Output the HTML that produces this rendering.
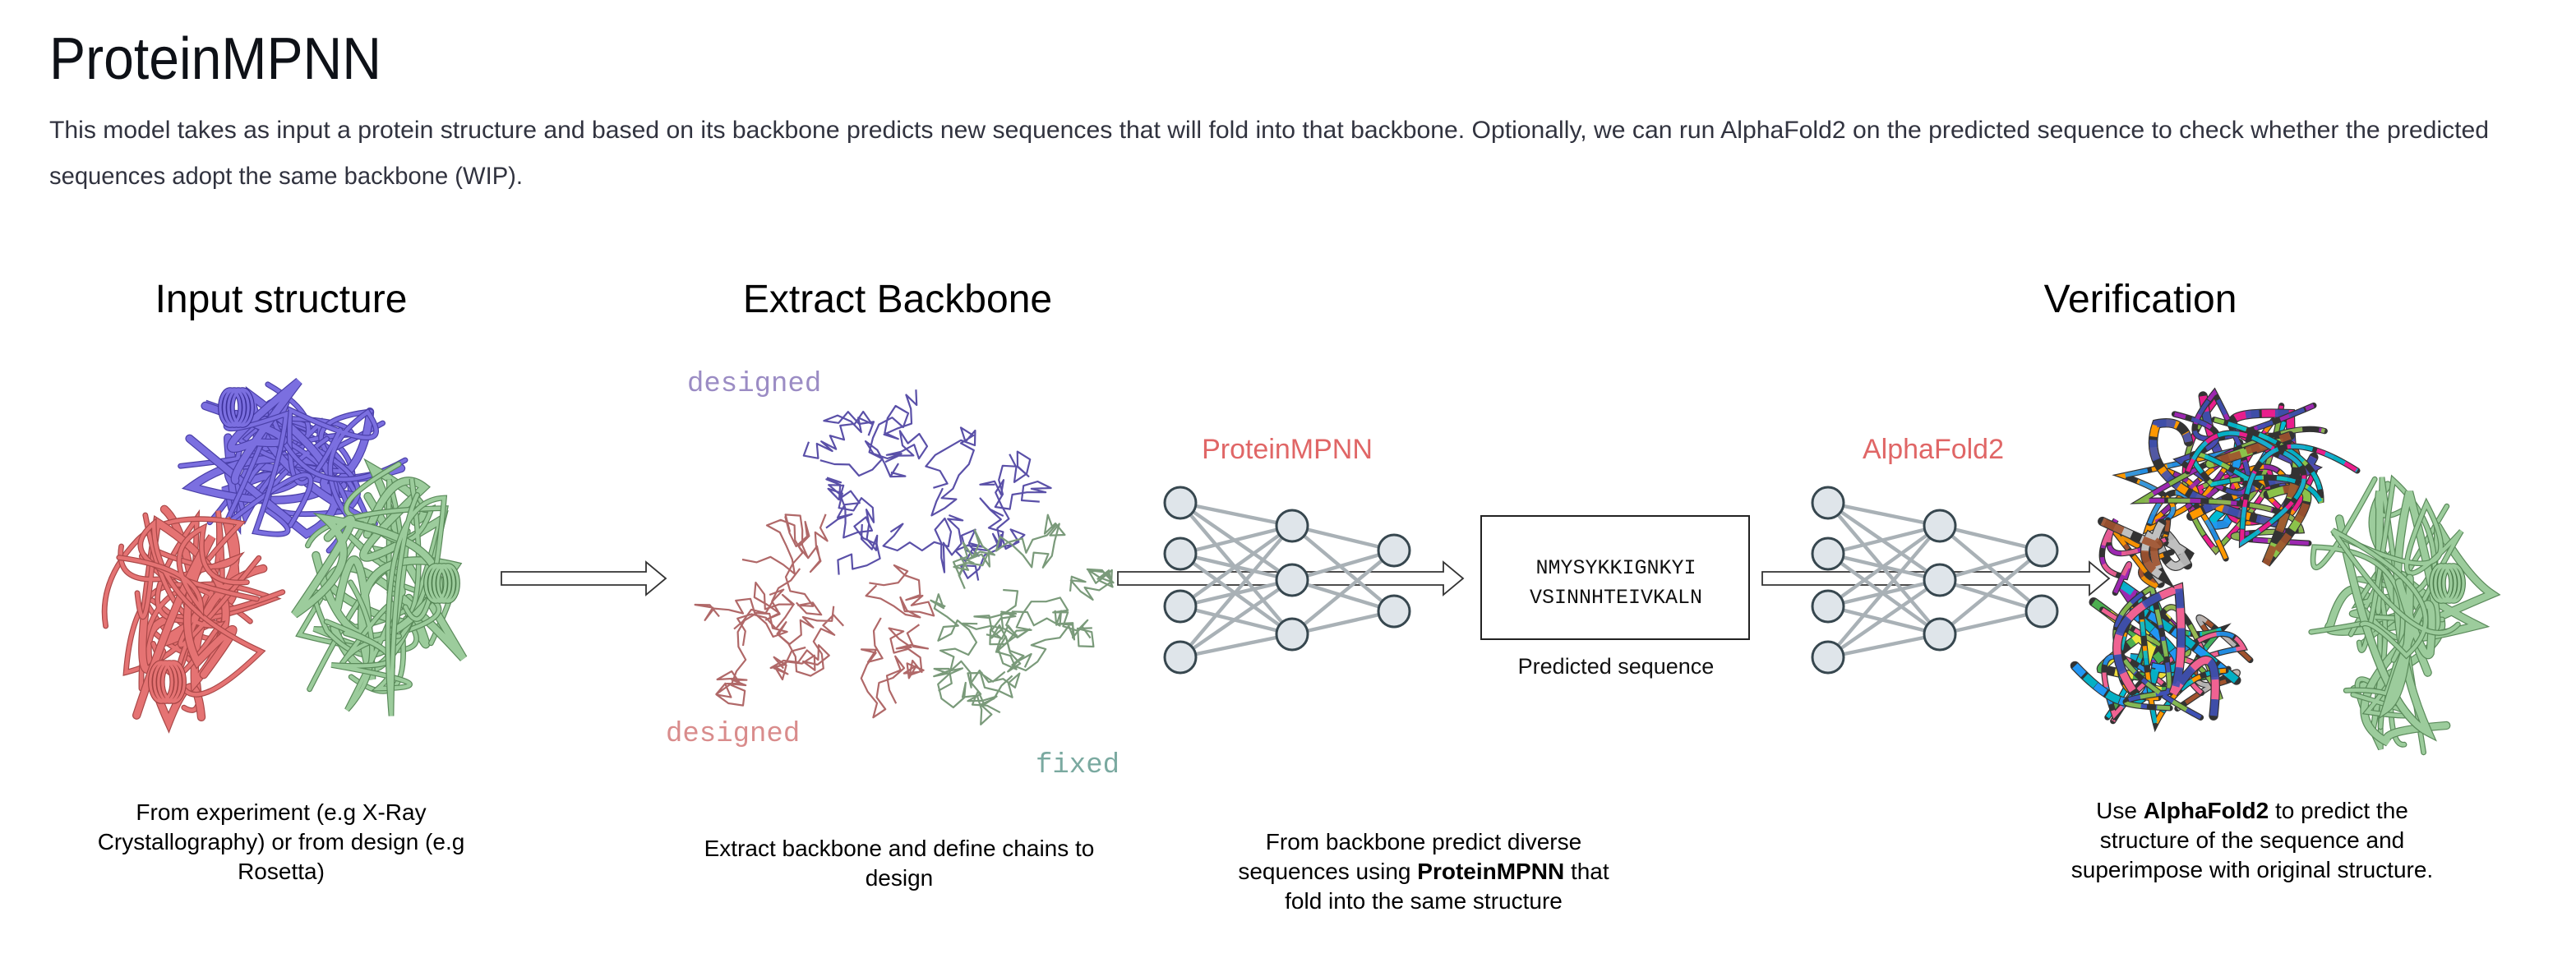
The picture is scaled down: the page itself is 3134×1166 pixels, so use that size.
<!DOCTYPE html>
<html><head><meta charset="utf-8">
<style>
html,body{margin:0;padding:0;background:#fff;}
body{width:3134px;height:1166px;overflow:hidden;}
svg{display:block;}
.t{font-family:"Liberation Sans",sans-serif;}
</style></head>
<body>
<svg id="s" width="3134" height="1166" viewBox="0 0 1567 583" xmlns="http://www.w3.org/2000/svg">
<rect width="1567" height="583" fill="#fff"/>
<text x="30" y="48" class="t" font-size="36" fill="#0e1117" textLength="202" lengthAdjust="spacingAndGlyphs">ProteinMPNN</text>
<text x="30" y="84" class="t" font-size="15" fill="#31333f" textLength="1484" lengthAdjust="spacingAndGlyphs">This model takes as input a protein structure and based on its backbone predicts new sequences that will fold into that backbone. Optionally, we can run AlphaFold2 on the predicted sequence to check whether the predicted</text>
<text x="30" y="112" class="t" font-size="15" fill="#31333f" textLength="288" lengthAdjust="spacingAndGlyphs">sequences adopt the same backbone (WIP).</text>

<g class="t" font-size="24" fill="#000" text-anchor="middle">
<text x="171" y="190">Input structure</text>
<text x="546" y="190">Extract Backbone</text>
<text x="1302" y="190">Verification</text>
</g>

<g id="prot"></g>

<g font-family="'Liberation Mono',monospace" font-size="17">
<text x="418" y="238" fill="#9b8cc4">designed</text>
<text x="405" y="451" fill="#d98c8c">designed</text>
<text x="630" y="470" fill="#7aa9a0">fixed</text>
</g>

<g fill="#fff" stroke="#333" stroke-width="0.9">
<path d="M305 348 H393 V342 L405 352 L393 362 V356 H305 Z"/>
<path d="M680 348 H878 V342 L890 352 L878 362 V356 H680 Z"/>
<path d="M1072 348 H1271 V342 L1283 352 L1271 362 V356 H1072 Z"/>
</g>

<g id="nets"></g>

<g class="t" font-size="17" fill="#e06666" text-anchor="middle">
<text x="783" y="279">ProteinMPNN</text>
<text x="1176" y="279">AlphaFold2</text>
</g>

<rect x="901" y="314" width="163" height="75" fill="#fff" stroke="#222" stroke-width="1"/>
<g font-family="'Liberation Mono',monospace" font-size="12.5" fill="#111" text-anchor="middle">
<text x="983" y="349">NMYSYKKIGNKYI</text>
<text x="983" y="367">VSINNHTEIVKALN</text>
</g>
<text x="983" y="410" class="t" font-size="13.5" text-anchor="middle" fill="#111">Predicted sequence</text>

<g class="t" font-size="14" fill="#000" text-anchor="middle">
<text x="171" y="499">From experiment (e.g X-Ray</text>
<text x="171" y="517">Crystallography) or from design (e.g</text>
<text x="171" y="535">Rosetta)</text>
<text x="547" y="521">Extract backbone and define chains to</text>
<text x="547" y="539">design</text>
<text x="866" y="517">From backbone predict diverse</text>
<text x="866" y="535">sequences using <tspan font-weight="bold">ProteinMPNN</tspan> that</text>
<text x="866" y="553">fold into the same structure</text>
<text x="1370" y="498">Use <tspan font-weight="bold">AlphaFold2</tspan> to predict the</text>
<text x="1370" y="516">structure of the sequence and</text>
<text x="1370" y="534">superimpose with original structure.</text>
</g>
</svg>
<script>
(function(){
var NS="http://www.w3.org/2000/svg";
var seed=7;function r(){seed=(seed*16807)%2147483647;return (seed-1)/2147483646;}
function el(p,n,a){var e=document.createElementNS(NS,n);for(var k in a)e.setAttribute(k,a[k]);p.appendChild(e);return e;}
var prot=document.getElementById('prot'),nets=document.getElementById('nets');
function pt(cx,cy,rx,ry){var a=r()*6.283,d=Math.sqrt(r());return [cx+Math.cos(a)*rx*d,cy+Math.sin(a)*ry*d];}
function ribbon(cx,cy,rx,ry,light,dark,n,w,multi){
 for(var i=0;i<n;i++){var p=pt(cx,cy,rx,ry),d="M"+p[0].toFixed(1)+" "+p[1].toFixed(1);
  var segs=[];
  for(var j=0;j<3;j++){var c=pt(cx,cy,rx,ry),q=pt(cx,cy,rx,ry);segs.push("Q"+c[0].toFixed(1)+" "+c[1].toFixed(1)+" "+q[0].toFixed(1)+" "+q[1].toFixed(1));}
  d+=segs.join("");
  var ww=(i%3==0)?w:w*0.55;
  el(prot,"path",{d:d,fill:"none",stroke:dark,"stroke-width":ww+1.2,"stroke-linecap":"round"});
  if(multi){var cols=["#e91e8c","#ffeb3b","#2196f3","#4caf50","#9c27b0","#00bcd4","#a0522d","#ff9800","#3f51b5","#c0c0c0","#8bc34a","#f06292"];
   el(prot,"path",{d:d,fill:"none",stroke:cols[Math.floor(r()*cols.length)],"stroke-width":ww,"stroke-dasharray":(6+r()*8)+" "+(5+r()*6),"stroke-linecap":"butt"});
   el(prot,"path",{d:d,fill:"none",stroke:cols[Math.floor(r()*cols.length)],"stroke-width":ww,"stroke-dasharray":"0 "+(8+r()*6)+" "+(8+r()*6)+" 0","opacity":0.9});
  } else el(prot,"path",{d:d,fill:"none",stroke:light,"stroke-width":ww,"stroke-linecap":"round"});
 }
}
function helix(x,y,s,light,dark){for(var i=0;i<4;i++)el(prot,"ellipse",{cx:x+i*2.5,cy:y,rx:s*0.55,ry:s,fill:"none",stroke:dark,"stroke-width":2.8});for(var i=0;i<4;i++)el(prot,"ellipse",{cx:x+i*2.5,cy:y,rx:s*0.55,ry:s,fill:"none",stroke:light,"stroke-width":1.7});}
function zig(cx,cy,rx,ry,col,n,steps){
 for(var i=0;i<n;i++){var p=pt(cx,cy,rx,ry),pts=[p];
  for(var j=0;j<steps;j++){var a=r()*6.283,nx=p[0]+Math.cos(a)*9,ny=p[1]+Math.sin(a)*9;
   if(((nx-cx)/rx)*((nx-cx)/rx)+((ny-cy)/ry)*((ny-cy)/ry)>1){nx=p[0]-(p[0]-cx)*0.15;ny=p[1]-(p[1]-cy)*0.15;}
   p=[nx,ny];pts.push(p);}
  el(prot,"polyline",{points:pts.map(function(q){return q[0].toFixed(1)+","+q[1].toFixed(1);}).join(" "),fill:"none",stroke:col,"stroke-width":1.1,"stroke-linejoin":"round"});
 }
}
ribbon(172,285,75,55,"#7b6fe0","#4a3fa8",14,4);
helix(140,248,11,"#7b6fe0","#3a2f98");
ribbon(110,380,65,75,"#e57373","#a94848",12,4);
helix(98,415,12,"#e57373","#a04040");
ribbon(235,370,60,90,"#9ccc9c","#5a8a5a",14,4);
helix(265,355,11,"#9ccc9c","#4a7a4a");
zig(560,300,80,65,"#5a50a8",10,22);
zig(495,380,75,70,"#b06868",10,22);
zig(625,390,62,80,"#7a9a7a",10,22);
ribbon(1310,400,60,50,"","#333",10,4.5,true);
ribbon(1365,290,75,55,"","#333",12,4.5,true);
ribbon(1300,340,35,30,"","#333",4,4.5,true);
ribbon(1460,375,60,90,"#9ccc9c","#5a8a5a",14,4);
helix(1485,355,11,"#9ccc9c","#4a7a4a");
function net(x0){var c1=[306,337,369,400],c2=[320,353,386],c3=[335,372];
 var g=el(nets,"g",{stroke:"#a9b1b6","stroke-width":2.2});
 c1.forEach(function(a){c2.forEach(function(b){el(g,"line",{x1:x0,y1:a,x2:x0+68,y2:b});});});
 c2.forEach(function(a){c3.forEach(function(b){el(g,"line",{x1:x0+68,y1:a,x2:x0+130,y2:b});});});
 function node(x,y){el(nets,"circle",{cx:x,cy:y,r:9.5,fill:"#dfe5ea",stroke:"#37474f","stroke-width":1.5});}
 c1.forEach(function(y){node(x0,y);});c2.forEach(function(y){node(x0+68,y);});c3.forEach(function(y){node(x0+130,y);});
}
net(718);net(1112);
})();
</script>
</body></html>
